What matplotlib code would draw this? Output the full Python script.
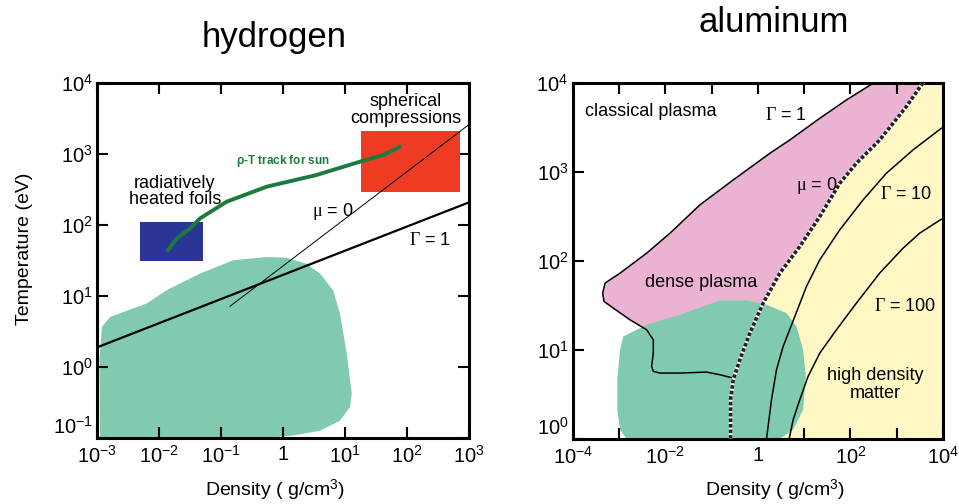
import numpy as np
import matplotlib
matplotlib.use('Agg')
import matplotlib.pyplot as plt
from matplotlib.ticker import FixedLocator, FuncFormatter, NullLocator

plt.rcParams['font.family'] = ['Liberation Sans', 'DejaVu Sans']
plt.rcParams['mathtext.fontset'] = 'custom'
plt.rcParams['mathtext.rm'] = 'Liberation Serif'
plt.rcParams['mathtext.it'] = 'Liberation Serif:italic'
plt.rcParams['lines.scale_dashes'] = False

# ---- hydrogen panel (log10 of density g/cm3, log10 of T eV) ----
h_blob_x = [-2.95, -2.96, -2.92, -2.79, -2.20, -1.87, -1.34, -0.80, -0.26, 0.06, 0.38,
            0.60, 0.81, 0.92, 1.03, 1.11, 1.08, 0.92, 0.60, 0.17, -0.26, -2.95]
h_blob_y = [-1.0, 0.09, 0.56, 0.70, 0.89, 1.08, 1.31, 1.50, 1.545, 1.535, 1.45,
            1.31, 1.075, 0.745, 0.18, -0.38, -0.57, -0.76, -0.90, -0.97, -1.0, -1.0]
foils_rho = [0.005, 0.051]
foils_T = [31, 108]
sph_rho = [18, 718]
sph_T = [292, 2083]
sun_x = [-1.873, -1.712, -1.497, -1.336, -0.907, -0.262, 0.543, 1.241, 1.616, 1.911]
sun_y = [1.62, 1.807, 1.948, 2.089, 2.324, 2.535, 2.70, 2.887, 2.981, 3.108]
h_gamma1_rho = [1e-3, 1e3]
h_gamma1_T = [1.87, 206]
h_mu0_rho = [0.14, 1e3]
h_mu0_T = [7.1, 2570]

# ---- aluminum panel ----
al_gamma1_x = [2.511, 1.914, 1.338, 0.691, 0.259, -0.532, -1.252, -1.899, -2.403, -2.978,
               -3.302, -3.353, -3.324, -3.122, -2.763, -2.403, -2.259, -2.259, -2.295,
               -2.259, -2.115, -1.683, -1.108, -0.820, -0.532]
al_gamma1_y = [4.0, 3.806, 3.60, 3.357, 3.207, 2.908, 2.628, 2.310, 2.086, 1.862,
               1.75, 1.637, 1.544, 1.469, 1.338, 1.226, 1.114, 0.964, 0.815,
               0.759, 0.740, 0.740, 0.751, 0.721, 0.684]
al_mu0_x = [3.568, 3.209, 2.633, 2.129, 1.770, 1.338, 0.906, 0.475, 0.115, -0.173,
            -0.388, -0.532, -0.590, -0.590]
al_mu0_y = [4.0, 3.731, 3.357, 3.095, 2.871, 2.497, 2.161, 1.862, 1.525, 1.189,
            0.890, 0.665, 0.441, 0.0]
al_gamma10_x = [3.964, 3.353, 2.777, 2.273, 1.770, 1.338, 1.050, 0.799, 0.547, 0.403, 0.295, 0.187]
al_gamma10_y = [3.488, 3.245, 2.983, 2.684, 2.348, 2.011, 1.712, 1.376, 1.039, 0.778, 0.441, 0.0]
al_gamma100_x = [3.964, 3.496, 3.137, 2.633, 2.129, 1.698, 1.338, 1.086, 0.906, 0.763, 0.676]
al_gamma100_y = [2.467, 2.310, 2.142, 1.862, 1.525, 1.226, 0.964, 0.703, 0.441, 0.217, 0.0]
al_blob_x = [-2.906, -2.403, -1.683, -1.180, -0.820, -0.245, 0.187, 0.619, 0.835, 0.978,
             1.036, 0.978, 0.763, 0.475, -2.835, -2.978, -3.036, -3.036, -2.978]
al_blob_y = [1.151, 1.282, 1.394, 1.488, 1.555, 1.555, 1.507, 1.413, 1.264, 1.002,
             0.703, 0.329, 0.105, 0.0, 0.0, 0.105, 0.329, 0.665, 1.002]

h_xticks = [-3, -2, -1, 0, 1, 2, 3]
h_yticks = [-1, 0, 1, 2, 3, 4]
al_xticks = [-4, -3, -2, -1, 0, 1, 2, 3, 4]
al_xlabeled = [-4, -2, 0, 2, 4]
al_yticks = [0, 1, 2, 3, 4]

GREEN = '#80cbaf'


def p10(v):
    return 10.0 ** np.asarray(v, dtype=float)


def fmt_x(labeled):
    def f(v, pos):
        e = int(round(np.log10(v)))
        if e not in labeled:
            return ''
        if e == 0:
            return '1'
        return r'$\mathdefault{10^{%d}}$' % e
    return FuncFormatter(f)


def fmt_y(v, pos):
    e = int(round(np.log10(v)))
    return r'$\mathdefault{10^{%d}}$' % e


def style_axes(ax, xt, yt, xlabeled, right_ticks):
    ax.set_xscale('log')
    ax.set_yscale('log')
    ax.xaxis.set_major_locator(FixedLocator(p10(xt)))
    ax.yaxis.set_major_locator(FixedLocator(p10(yt)))
    ax.xaxis.set_minor_locator(NullLocator())
    ax.yaxis.set_minor_locator(NullLocator())
    ax.xaxis.set_major_formatter(fmt_x(xlabeled))
    ax.yaxis.set_major_formatter(FuncFormatter(fmt_y))
    ax.tick_params(which='major', direction='in', length=8, width=1.5,
                   top=True, right=right_ticks, labelsize=14.5)
    ax.tick_params(axis='x', pad=5)
    ax.tick_params(axis='y', pad=3)
    for s in ax.spines.values():
        s.set_linewidth(2.2)
    # lowest y label sits just above the corner, as in the original
    ax.yaxis.get_major_ticks()[0].label1.set_verticalalignment('bottom')


fig = plt.figure(figsize=(9.59, 5.04), dpi=100)
ax1 = fig.add_axes([0.1011, 0.1315, 0.3879, 0.7045])
ax2 = fig.add_axes([0.5972, 0.129, 0.3861, 0.707])

# hydrogen
ax1.fill(p10(h_blob_x), p10(h_blob_y), color=GREEN, lw=0, zorder=1)
ax1.fill_between(foils_rho, foils_T[0], foils_T[1], color='#2b3595', lw=0, zorder=2)
ax1.fill_between(sph_rho, sph_T[0], sph_T[1], color='#ee3b24', lw=0, zorder=2)
ax1.plot(h_gamma1_rho, h_gamma1_T, color='black', lw=1.6, zorder=3)
ax1.plot(h_mu0_rho, h_mu0_T, color='black', lw=0.7, zorder=3)
ax1.plot(p10(sun_x), p10(sun_y), color='#1c7a3c', lw=2.8, solid_capstyle='butt',
         solid_joinstyle='round', zorder=4)
ax1.set_xlim(1e-3, 1e3)
ax1.set_ylim(1e-1, 1e4)
style_axes(ax1, h_xticks, h_yticks, h_xticks, True)

ax1.text(95, 4120, 'spherical\ncompressions', ha='center', va='center', fontsize=13,
         linespacing=0.95, zorder=5)
ax1.text(1.0, 795, r'$\mathdefault{\rho}$-T track for sun', ha='center', va='center',
         fontsize=8.5, fontweight='bold', color='#1c7a3c', zorder=5)
ax1.text(0.018, 292, 'radiatively\nheated foils', ha='center', va='center', fontsize=13,
         linespacing=0.95, zorder=5)
ax1.text(2.9, 152, r'$\mathrm{\mu}$ = 0', ha='left', va='center', fontsize=13, zorder=5)
ax1.text(108, 59, r'$\Gamma$ = 1', ha='left', va='center', fontsize=13, zorder=5)

# aluminum
pink_x = al_gamma1_x + al_mu0_x[:11][::-1]
pink_y = al_gamma1_y + al_mu0_y[:11][::-1]
yel_x = al_mu0_x + [4.0, 4.0]
yel_y = al_mu0_y + [0.0, 4.0]
ax2.fill(p10(yel_x), p10(yel_y), color='#fff8c5', lw=0, zorder=1)
ax2.fill(p10(pink_x), p10(pink_y), color='#ebb3d1', lw=0, zorder=1)
ax2.fill(p10(al_blob_x), p10(al_blob_y), color=GREEN, lw=0, zorder=2)
ax2.plot(p10(al_gamma1_x), p10(al_gamma1_y), color='black', lw=1.1, zorder=3)
ax2.plot(p10(al_gamma10_x), p10(al_gamma10_y), color='black', lw=1.1, zorder=3)
ax2.plot(p10(al_gamma100_x), p10(al_gamma100_y), color='black', lw=1.1, zorder=3)
ax2.plot(p10(al_mu0_x), p10(al_mu0_y), color='white', lw=2.6, zorder=3)
ax2.plot(p10(al_mu0_x), p10(al_mu0_y), color='#222222', lw=2.6, dashes=(2.6, 1.4), zorder=4)
ax2.set_xlim(1e-4, 1e4)
ax2.set_ylim(1e0, 1e4)
style_axes(ax2, al_xticks, al_yticks, al_xlabeled, False)

ax2.text(p10(-3.734), p10(3.675), 'classical plasma', ha='left', va='center', fontsize=13)
ax2.text(p10(0.151), p10(3.626), r'$\Gamma$ = 1', ha='left', va='center', fontsize=13)
ax2.text(p10(0.835), p10(2.841), r'$\mathrm{\mu}$ = 0', ha='left', va='center', fontsize=13)
ax2.text(p10(2.633), p10(2.740), r'$\Gamma$ = 10', ha='left', va='center', fontsize=13)
ax2.text(p10(-1.216), p10(1.757), 'dense plasma', ha='center', va='center', fontsize=13)
ax2.text(p10(2.511), p10(1.488), r'$\Gamma$ = 100', ha='left', va='center', fontsize=13)
ax2.text(p10(2.547), p10(0.609), 'high density\nmatter', ha='center', va='center',
         fontsize=13, linespacing=1.1)

# titles and axis labels
fig.text(0.2857, 0.925, 'hydrogen', ha='center', va='center', fontsize=25)
fig.text(0.807, 0.956, 'aluminum', ha='center', va='center', fontsize=25)
fig.text(0.026, 0.506, 'Temperature (eV)', rotation=90, ha='center', va='center', fontsize=14)
fig.text(0.287, 0.026, r'Density ( g/cm$^{\mathdefault{3}}$)', ha='center', va='center', fontsize=14)
fig.text(0.808, 0.026, r'Density ( g/cm$^{\mathdefault{3}}$)', ha='center', va='center', fontsize=14)

fig.savefig('out.png', dpi=100)
